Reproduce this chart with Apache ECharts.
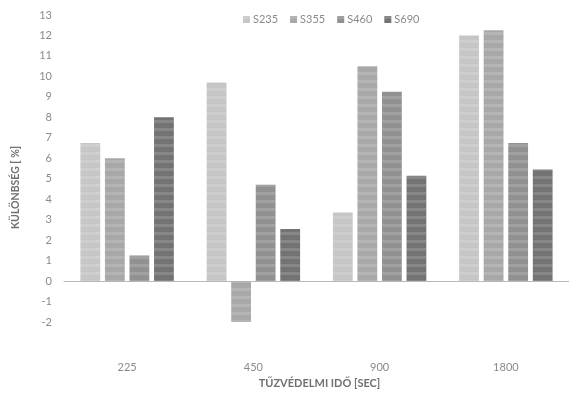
<!DOCTYPE html>
<html>
<head>
<meta charset="utf-8">
<script src="https://cdn.jsdelivr.net/npm/echarts@6/dist/echarts.min.js"></script>
<style>html,body{margin:0;padding:0;background:#fff}#c{width:569px;height:397px}</style>
</head>
<body>
<div id="c"></div>
<script>
var categories = ['225', '450', '900', '1800'];
var seriesNames = ['S235', 'S355', 'S460', 'S690'];
var s235 = [6.75, 9.7, 3.35, 12.0];
var s355 = [6.0, -2.1, 10.5, 12.25];
var s460 = [1.25, 4.7, 9.25, 6.75];
var s690 = [8.0, 2.55, 5.15, 5.45];
var yMin = -2, yMax = 13, yStep = 1;

var colors = ['#c6c6c6', '#a8a8a8', '#919191', '#737373'];
var values = [s235, s355, s460, s690];
var font = 'Lato';

var chart = echarts.init(document.getElementById('c'), null, {renderer: 'canvas'});
var series = seriesNames.map(function (n, i) {
  return {
    name: n, type: 'bar', data: values[i],
    xAxisIndex: 0,
    barGap: '24%', barCategoryGap: '26%',
    itemStyle: {
      color: colors[i],
      decal: {symbol: 'rect', dashArrayX: [1, 0], dashArrayY: [3, 5], rotation: 0, color: 'rgba(255,255,255,0.14)'}
    }
  };
});
chart.setOption({
  animation: false,
  textStyle: {fontFamily: font},
  legend: {
    data: seriesNames, top: 9, left: 238, itemWidth: 7, itemHeight: 7, itemGap: 12,
    icon: 'rect',
    textStyle: {color: '#8a8a8a', fontSize: 11, fontFamily: font, padding: [0, 0, 0, -2]}
  },
  grid: {left: 64, top: 15, width: 511, bottom: 75, containLabel: false},
  xAxis: [{
    type: 'category', data: categories, position: 'bottom',
    axisLine: {show: false, onZero: false}, axisTick: {show: false},
    axisLabel: {color: '#8a8a8a', fontSize: 11, margin: 40},
    name: 'TŰZVÉDELMI IDŐ [SEC]', nameLocation: 'middle', nameGap: 56,
    nameTextStyle: {color: '#707070', fontSize: 11, fontWeight: 'bold', padding: [0, 0, 0, 6]}
  }, {
    type: 'category', data: categories, position: 'bottom',
    axisLine: {show: true, onZero: true, lineStyle: {color: '#b8b8b8', width: 1}},
    axisTick: {show: false}, axisLabel: {show: false}
  }],
  yAxis: {
    type: 'value', min: yMin, max: yMax, interval: yStep,
    axisLine: {show: false}, axisTick: {show: false}, splitLine: {show: false},
    axisLabel: {color: '#8a8a8a', fontSize: 11, margin: 12},
    name: 'KÜLÖNBSÉG [ %]', nameLocation: 'middle', nameGap: 43, nameRotate: 90,
    nameTextStyle: {color: '#707070', fontSize: 10.5, fontWeight: 'bold', padding: [0, 38, 0, 0]}
  },
  series: series
});
</script>
</body>
</html>
